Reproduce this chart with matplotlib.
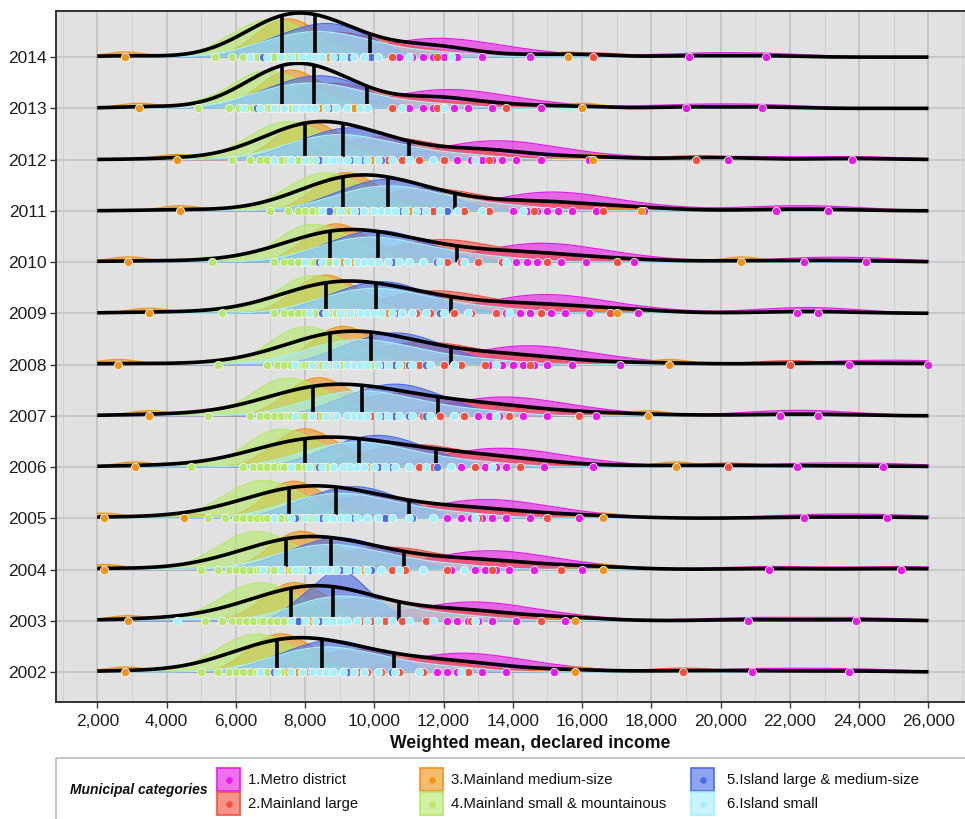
import numpy as np
import matplotlib
matplotlib.use("Agg")
import matplotlib.pyplot as plt
from matplotlib.patches import Rectangle

plt.rcParams['font.family'] = ['Liberation Sans', 'DejaVu Sans']

YEARS = [2002, 2003, 2004, 2005, 2006, 2007, 2008, 2009, 2010, 2011, 2012, 2013, 2014]
CATEGORY_LABELS = ["1.Metro district", "2.Mainland large", "3.Mainland medium-size",
                   "4.Mainland small & mountainous", "5.Island large & medium-size", "6.Island small"]
CATEGORY_COLORS = ["#E81AE8", "#F4503F", "#EF9419", "#B5E86A", "#4A6CE8", "#A6F0FA"]
X_TICKS = [2000, 4000, 6000, 8000, 10000, 12000, 14000, 16000, 18000, 20000, 22000, 24000, 26000]
VALUE_UNIT = 100  # values below are in hundreds of euros

METRO = {
    2002: [114, 118, 121, 124, 127, 131, 138, 152, 209, 237],
    2003: [117, 121, 124, 127, 130, 134, 141, 155, 208, 239],
    2004: [122, 126, 129, 132, 135, 139, 146, 160, 214, 252],
    2005: [121, 125, 128, 131, 134, 138, 145, 159, 224, 248],
    2006: [125, 129, 132, 135, 138, 142, 149, 163, 222, 247],
    2007: [126, 130, 133, 136, 139, 143, 150, 164, 217, 228],
    2008: [133, 137, 140, 143, 146, 150, 157, 171, 237, 260],
    2009: [138, 142, 145, 148, 151, 155, 162, 176, 222, 228],
    2010: [137, 141, 144, 147, 150, 154, 161, 175, 224, 242],
    2011: [140, 144, 147, 150, 153, 157, 164, 178, 216, 231],
    2012: [124, 128, 131, 134, 137, 141, 148, 162, 202, 238],
    2013: [110, 114, 117, 120, 123, 127, 134, 148, 190, 212],
    2014: [107, 111, 114, 117, 120, 124, 131, 145, 191, 213],
}
MAINLAND_LARGE = {
    2002: [81, 87, 91, 95, 98, 102, 107, 114, 127, 189],
    2003: [82, 88, 92, 96, 99, 103, 108, 115, 128, 148],
    2004: [88, 94, 98, 102, 105, 109, 114, 121, 134, 154],
    2005: [84, 90, 94, 98, 101, 105, 110, 117, 130, 150],
    2006: [96, 102, 106, 110, 113, 117, 122, 129, 142, 202],
    2007: [93, 99, 103, 107, 110, 114, 119, 126, 139, 159],
    2008: [99, 105, 109, 113, 116, 120, 125, 132, 145, 220],
    2009: [102, 108, 112, 116, 119, 123, 128, 135, 148, 168],
    2010: [104, 110, 114, 118, 121, 125, 130, 137, 150, 170],
    2011: [100, 106, 110, 114, 117, 121, 126, 133, 146, 166],
    2012: [87, 93, 97, 101, 104, 108, 113, 120, 133, 193],
    2013: [75, 80, 84, 87, 89, 93, 98, 105, 118, 138],
    2014: [75, 80, 84, 87, 90, 93, 98, 105, 118, 163],
}
MAINLAND_MEDIUM = {
    2002: [28, 63, 66, 68, 70, 72, 73, 75, 76, 78, 81, 85, 91, 158],
    2003: [29, 67, 70, 72, 74, 76, 77, 79, 80, 82, 85, 89, 95, 158],
    2004: [22, 69, 72, 74, 76, 78, 79, 81, 82, 84, 87, 91, 97, 166],
    2005: [22, 45, 69, 71, 73, 75, 76, 78, 79, 81, 84, 88, 94, 166],
    2006: [31, 70, 73, 75, 77, 79, 80, 82, 83, 85, 88, 92, 98, 187],
    2007: [35, 74, 77, 79, 81, 83, 84, 86, 87, 89, 92, 96, 102, 179],
    2008: [26, 81, 84, 86, 88, 90, 91, 93, 94, 96, 99, 103, 109, 185],
    2009: [35, 76, 79, 81, 83, 85, 86, 88, 89, 91, 94, 98, 104, 170],
    2010: [29, 79, 82, 84, 86, 88, 89, 91, 92, 94, 97, 101, 107, 206],
    2011: [44, 82, 85, 87, 89, 91, 92, 94, 95, 97, 100, 104, 110, 177],
    2012: [43, 71, 74, 76, 78, 80, 81, 83, 84, 86, 89, 93, 99, 163],
    2013: [32, 66, 69, 71, 73, 75, 76, 78, 79, 81, 84, 88, 94, 160],
    2014: [28, 65, 68, 70, 72, 74, 75, 77, 78, 80, 83, 87, 93, 156],
}
MAINLAND_SMALL = {
    2002: [50, 55, 58, 60, 62, 64, 66, 67, 69, 71, 73, 76, 79, 85],
    2003: [51, 56, 59, 61, 63, 65, 67, 68, 70, 72, 74, 77, 80, 86],
    2004: [50, 55, 58, 60, 62, 64, 66, 67, 69, 71, 73, 76, 79, 85],
    2005: [52, 57, 60, 62, 64, 66, 68, 69, 71, 73, 75, 78, 81, 87],
    2006: [47, 62, 65, 67, 69, 71, 73, 74, 76, 78, 80, 83, 86, 92],
    2007: [52, 64, 67, 69, 71, 73, 75, 76, 78, 80, 82, 85, 88, 94],
    2008: [55, 69, 72, 74, 76, 78, 80, 81, 83, 85, 87, 90, 93, 99],
    2009: [56, 71, 74, 76, 78, 80, 82, 83, 85, 87, 89, 92, 95, 101],
    2010: [53, 71, 74, 76, 78, 80, 82, 83, 85, 87, 89, 92, 95, 101],
    2011: [70, 75, 78, 80, 82, 84, 86, 87, 89, 91, 93, 96, 99, 105],
    2012: [59, 64, 67, 69, 71, 73, 75, 76, 78, 80, 82, 85, 88, 94],
    2013: [49, 58, 61, 63, 65, 67, 69, 70, 72, 74, 76, 79, 82, 88],
    2014: [54, 59, 62, 64, 66, 68, 70, 71, 73, 75, 77, 80, 83, 89],
}
ISLAND_LARGE = {
    2002: [71, 79, 84, 88, 92, 97, 105],
    2003: [78, 84, 87, 90, 92, 95, 101],
    2004: [73, 81, 86, 90, 94, 99, 107],
    2005: [77, 85, 90, 94, 98, 103, 111],
    2006: [84, 92, 97, 101, 105, 110, 118],
    2007: [89, 97, 102, 106, 110, 115, 123],
    2008: [89, 97, 102, 106, 110, 115, 123],
    2009: [85, 93, 98, 102, 106, 111, 119],
    2010: [84, 92, 97, 101, 105, 110, 118],
    2011: [87, 95, 100, 104, 108, 113, 121],
    2012: [76, 84, 89, 93, 97, 102, 110],
    2013: [66, 74, 79, 83, 87, 92, 97],
    2014: [68, 76, 81, 85, 89, 93, 99],
}
ISLAND_SMALL = {
    2002: [67, 72, 76, 79, 82, 84, 86, 88, 91, 94, 97, 101, 106, 113, 125],
    2003: [43, 76, 80, 83, 86, 88, 90, 92, 95, 98, 101, 105, 110, 117, 129],
    2004: [68, 73, 77, 80, 83, 85, 87, 89, 92, 95, 98, 102, 107, 114, 126],
    2005: [71, 76, 80, 83, 86, 88, 90, 92, 95, 98, 101, 105, 110, 117, 129],
    2006: [76, 81, 85, 88, 91, 93, 95, 97, 100, 103, 106, 110, 115, 122, 134],
    2007: [77, 82, 86, 89, 92, 94, 96, 98, 101, 104, 107, 111, 116, 123, 135],
    2008: [77, 82, 86, 89, 92, 94, 96, 98, 101, 104, 107, 111, 116, 123, 135],
    2009: [81, 86, 90, 93, 96, 98, 100, 102, 105, 108, 111, 115, 120, 127, 139],
    2010: [80, 85, 89, 92, 95, 97, 99, 101, 104, 107, 110, 114, 119, 126, 138],
    2011: [85, 90, 94, 97, 100, 102, 104, 106, 109, 112, 115, 119, 124, 131, 143],
    2012: [71, 76, 80, 83, 86, 88, 90, 92, 95, 98, 101, 105, 110, 117, 129],
    2013: [62, 67, 71, 74, 77, 79, 81, 83, 86, 89, 92, 96, 98, 108, 120],
    2014: [64, 69, 73, 76, 79, 81, 83, 85, 88, 91, 94, 97, 101, 110, 122],
}
CATEGORY_DATA = [METRO, MAINLAND_LARGE, MAINLAND_MEDIUM, MAINLAND_SMALL, ISLAND_LARGE, ISLAND_SMALL]


def kde(vals, grid, factor):
    v = np.asarray(vals, float)
    n = len(v)
    sd = v.std(ddof=1)
    q75, q25 = np.percentile(v, [75, 25])
    spread = min(sd, (q75 - q25) / 1.34) if q75 > q25 else sd
    bw = 0.9 * spread * n ** -0.2 * factor
    z = (grid[:, None] - v[None, :]) / bw
    return np.exp(-0.5 * z ** 2).sum(axis=1) / (n * bw * np.sqrt(2 * np.pi))


W, H = 965, 819
fig = plt.figure(figsize=(W / 100, H / 100), dpi=100)
ax_l, ax_r, ax_t, ax_b = 55.7, 970.0, 11.0, 702.0
ax = fig.add_axes([ax_l / W, (H - ax_b) / H, (ax_r - ax_l) / W, (ax_b - ax_t) / H])
ax.set_facecolor('#E1E1E1')
ax.set_xlim(800, 27200)
ax.set_ylim(-0.585, 12.9)

grid = np.linspace(2000, 26000, 1600)

cat_dens = {}
all_dens = {}
all_vals = {}
for year in YEARS:
    vals_all = []
    for k, dct in enumerate(CATEGORY_DATA):
        v = np.array(dct[year], float) * VALUE_UNIT
        vals_all.append(v)
        cat_dens[(year, k)] = kde(v, grid, 1.3)
    vals_all = np.concatenate(vals_all)
    all_vals[year] = vals_all
    all_dens[year] = kde(vals_all, grid, 1.3)

# scale category ridges so the typical small-mainland peak is ~0.74 of a row
cat_scale = 0.74 / np.median([cat_dens[(y, 3)].max() for y in YEARS])
all_scale = 0.88 / max(d.max() for d in all_dens.values())

for i, year in enumerate(YEARS):
    base = i
    for k, dct in enumerate(CATEGORY_DATA):
        col = CATEGORY_COLORS[k]
        yv = base + cat_dens[(year, k)] * cat_scale
        ax.fill_between(grid, base, yv, color=col, alpha=0.62, lw=0, zorder=2)
        ax.plot(grid, yv, color=col, lw=0.9, zorder=2)
    d = all_dens[year] * all_scale
    ax.plot(grid, base + d, color='black', lw=2.6, zorder=3, solid_capstyle='butt')
    for qq in np.percentile(all_vals[year], [25, 50, 75]):
        h = np.interp(qq, grid, d)
        ax.plot([qq, qq], [base, base + h], color='black', lw=2.6, zorder=3,
                solid_capstyle='butt')
    for k, dct in enumerate(CATEGORY_DATA):
        v = np.array(dct[year], float) * VALUE_UNIT
        ax.scatter(v, np.full(len(v), base), s=36, color=CATEGORY_COLORS[k],
                   edgecolors='#F4F4F4', linewidths=0.6, zorder=4)

# grid / axes styling
ax.set_xticks(X_TICKS)
ax.set_xticklabels([f"{v:,}" for v in X_TICKS])
ax.set_xticks([v for v in range(1000, 27001, 2000)], minor=True)
ax.set_yticks(range(len(YEARS)))
ax.set_yticklabels([str(y) for y in YEARS])
ax.set_axisbelow(True)
ax.grid(which='major', axis='x', color='#C4C4C4', lw=1.3)
ax.grid(which='minor', axis='x', color='#D2D2D2', lw=0.9)
ax.grid(which='major', axis='y', color='#C4C4C4', lw=1.2)
ax.tick_params(which='minor', length=0)
ax.tick_params(axis='both', which='major', length=4.5, width=1, color='#333333',
               labelsize=12.5, labelcolor='#1E1E1E')
ax.tick_params(axis='x', pad=4)
ax.tick_params(axis='y', pad=2)
for s in ['left', 'top', 'bottom']:
    ax.spines[s].set_color('#333333')
    ax.spines[s].set_linewidth(1.4)
ax.spines['right'].set_visible(False)

fig.text(530 / W, 1 - 744 / H, "Weighted mean, declared income", ha='center', va='center',
         fontsize=12.7, fontweight='bold', color='#111111')

# legend
lg = fig.add_axes([0, 0, 1, 1], facecolor='none')
lg.set_xlim(0, W)
lg.set_ylim(H, 0)
lg.axis('off')
lg.add_patch(Rectangle((55.7, 758), 930, 80, fill=False, edgecolor='#BBBBBB', lw=1.2))
lg.text(70, 790, "Municipal categories", ha='left', va='center', fontsize=10,
        fontweight='bold', fontstyle='italic', color='#111111')
key_x = [217, 420, 691]
text_x = [248, 451, 727]
key_y = [768, 792]
for k, lab in enumerate(CATEGORY_LABELS):
    c, r = divmod(k, 2)
    col = CATEGORY_COLORS[k]
    lg.add_patch(Rectangle((key_x[c], key_y[r]), 23, 23, facecolor=col, alpha=0.62,
                           edgecolor='none'))
    lg.add_patch(Rectangle((key_x[c], key_y[r]), 23, 23, facecolor='none',
                           edgecolor=col, lw=1.2))
    lg.scatter([key_x[c] + 11.5], [key_y[r] + 11.5], s=14, color=col, zorder=5)
    lg.text(text_x[c], key_y[r] + 12, lab, ha='left', va='center', fontsize=10.7,
            color='#111111')

fig.savefig('out.png', dpi=100)
